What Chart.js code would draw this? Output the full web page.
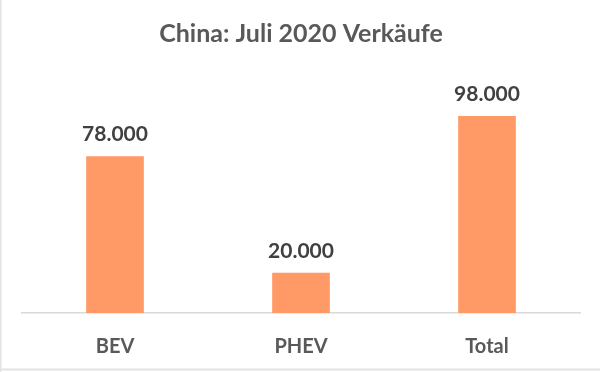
<!DOCTYPE html>
<html>
<head>
<meta charset="utf-8">
<script src="https://cdn.jsdelivr.net/npm/chart.js@4.4.1/dist/chart.umd.min.js"></script>
<style>
html,body{margin:0;padding:0;background:#fff;}
#wrap{width:600px;height:372px;position:relative;}
</style>
</head>
<body>
<div id="wrap"><canvas id="c" width="600" height="372"></canvas></div>
<script>
const categories = ['BEV', 'PHEV', 'Total'];
const sales = [78000, 20000, 98000];
const chartTitle = 'China: Juli 2020 Verkäufe';

function fmt(v) {
  return String(Math.round(v)).replace(/\B(?=(\d{3})+(?!\d))/g, '.');
}

const frame = {
  id: 'frame',
  beforeDraw(chart) {
    const ctx = chart.ctx;
    ctx.save();
    ctx.fillStyle = '#ffffff';
    ctx.fillRect(0, 0, chart.width, chart.height);
    ctx.fillStyle = '#e3e3e3';
    ctx.fillRect(0, 0, 1.5, chart.height);
    ctx.fillRect(0, 368.5, chart.width, 2);
    ctx.restore();
  }
};

const valueLabels = {
  id: 'valueLabels',
  afterDatasetsDraw(chart) {
    const ctx = chart.ctx;
    const meta = chart.getDatasetMeta(0);
    ctx.save();
    ctx.font = 'bold 21px Lato';
    ctx.fillStyle = '#404040';
    ctx.textAlign = 'center';
    ctx.textBaseline = 'alphabetic';
    meta.data.forEach((bar, i) => {
      ctx.fillText(fmt(chart.data.datasets[0].data[i]), bar.x, bar.y - 15);
    });
    ctx.restore();
  }
};

new Chart(document.getElementById('c'), {
  type: 'bar',
  data: {
    labels: categories,
    datasets: [{
      data: sales,
      backgroundColor: '#FF9966',
      borderWidth: 0,
      categoryPercentage: 1,
      barPercentage: 0.31
    }]
  },
  options: {
    responsive: false,
    animation: false,
    devicePixelRatio: 1,
    layout: { padding: { left: 22, right: 20, top: 0, bottom: 12 } },
    plugins: {
      legend: { display: false },
      tooltip: { enabled: false },
      title: {
        display: true,
        text: chartTitle,
        color: '#595959',
        font: { family: 'Lato', size: 25, weight: 'bold', lineHeight: 1.2 },
        padding: { top: 19, bottom: 63 }
      }
    },
    scales: {
      x: {
        grid: { display: false, drawTicks: false },
        border: { display: true, color: '#d9d9d9', width: 1.5 },
        ticks: {
          color: '#595959',
          font: { family: 'Lato', size: 20, weight: 'bold', lineHeight: 1.2 },
          padding: 22
        },
        afterFit(scale) { scale.height = 47; }
      },
      y: {
        display: false,
        min: 0,
        max: 100000
      }
    }
  },
  plugins: [frame, valueLabels]
});
</script>
</body>
</html>
